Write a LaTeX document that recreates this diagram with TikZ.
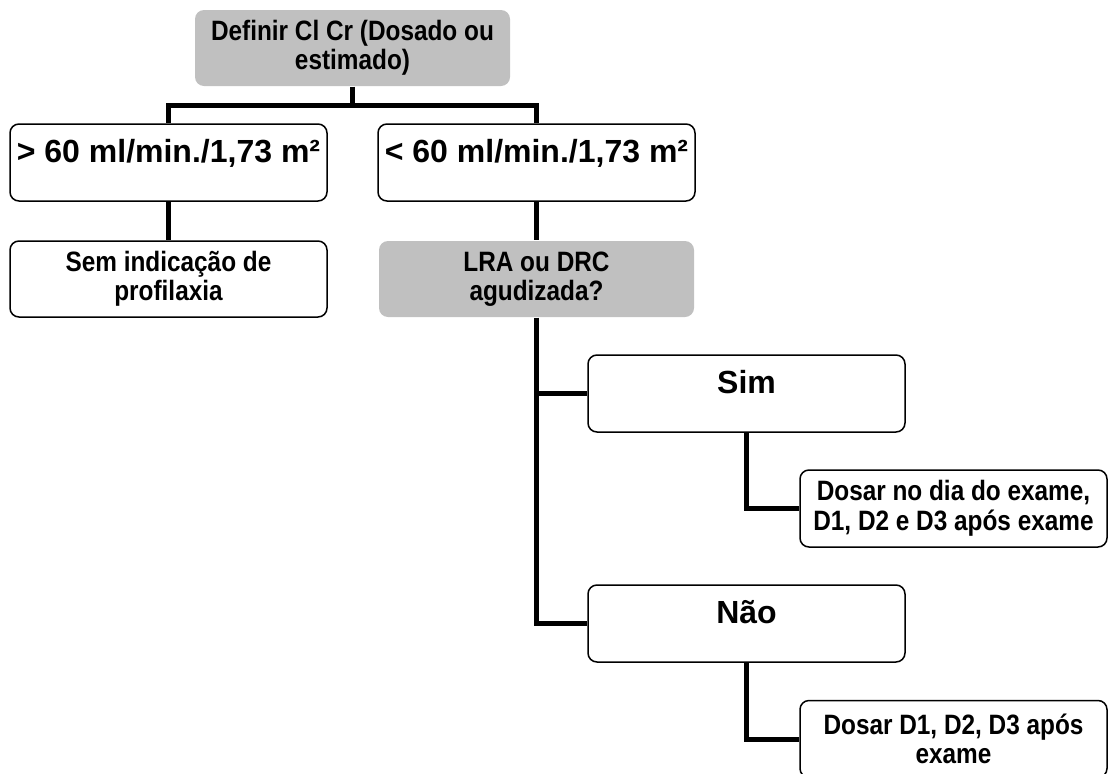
\documentclass[tikz,border=0pt]{standalone}
\usepackage{fontspec}
\setmainfont{Liberation Sans}
\newfontfamily\narrowsans{Liberation Sans}[FakeStretch=0.87]
\definecolor{boxgray}{RGB}{192,192,192}
\newcommand\smalltxt{\narrowsans\fontsize{28}{29.5}\selectfont\bfseries}
\newcommand\bigtxt{\fontsize{32}{36}\selectfont\bfseries}
\begin{document}
\begin{tikzpicture}[x=1pt,y=-1pt,
  box/.style={draw=black, line width=1.5pt, rounded corners=9pt, fill=white,
    inner sep=0pt, align=center, font=\smalltxt, minimum width=317pt, minimum height=77pt},
  graybox/.style={box, draw=none, fill=boxgray},
  bigbox/.style={box, font=\bigtxt, text height=23pt, text depth=24pt},
  conn/.style={line width=5pt, line join=miter}]
\useasboundingbox (0,0) rectangle (1109,774);
\node[graybox, minimum width=315pt, minimum height=76pt] (top) at (352.5,48) {Definir Cl Cr (Dosado ou\\estimado)};
\node[bigbox] (l1) at (168.5,162.5) {> 60 ml/min./1,73 m²};
\node[bigbox] (r1) at (536.5,162.5) {< 60 ml/min./1,73 m²};
\node[box, minimum height=76pt] (l2) at (168.5,279) {Sem indicação de\\profilaxia};
\node[graybox, minimum width=315pt, minimum height=76pt] (r2) at (536.5,279) {LRA ou DRC\\agudizada?};
\node[bigbox] (sim) at (746.5,393.5) {Sim};
\node[bigbox] (nao) at (746.5,623.5) {Não};
\node[box, minimum width=307pt] (d1) at (953.5,508.5) {Dosar no dia do exame,\\D1, D2 e D3 após exame};
\node[box, minimum width=307pt] (d2) at (953.5,739) {Dosar D1, D2, D3 após\\exame};
\draw[conn] (top.south) -- ++(0,19) -| (l1.north);
\draw[conn] (top.south) -- ++(0,19) -| (r1.north);
\draw[conn] (l1.south) -- (l2.north);
\draw[conn] (r1.south) -- (r2.north);
\draw[conn] (r2.south) |- (sim.west);
\draw[conn] (r2.south) |- (nao.west);
\draw[conn] (sim.south) |- (d1.west);
\draw[conn] (nao.south) |- (d2.west);
\end{tikzpicture}
\end{document}
